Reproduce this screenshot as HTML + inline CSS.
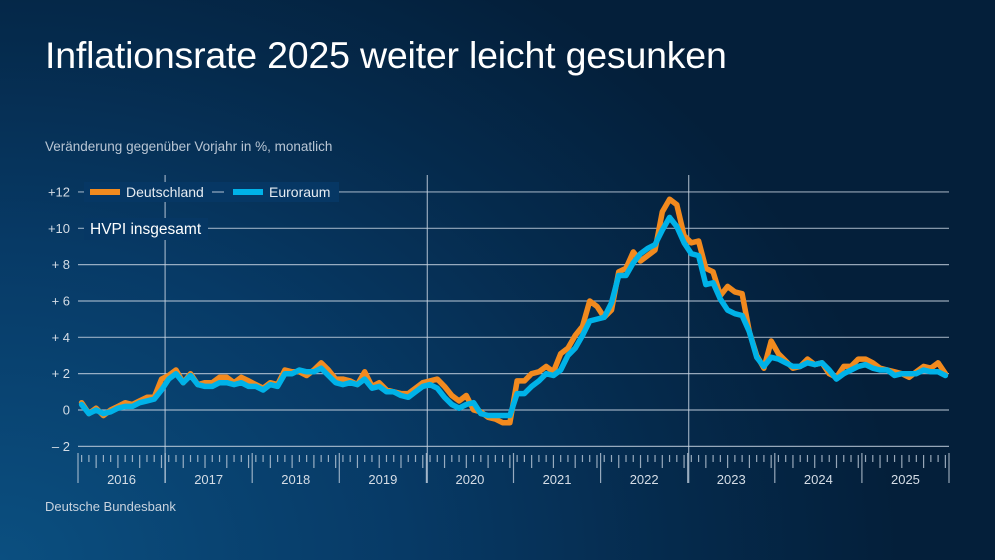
<!DOCTYPE html>
<html><head><meta charset="utf-8">
<style>
html,body{margin:0;padding:0}
body{width:995px;height:560px;overflow:hidden;background:radial-gradient(ellipse 900px 700px at 0% 100%,#0b4f80 0%,#073a66 45%,#052a4c 75%,#041f3a 100%);font-family:"Liberation Sans",sans-serif;position:relative}
h1{position:absolute;left:45px;top:34px;margin:0;font-weight:normal;color:#fff;font-size:37.5px;letter-spacing:-0.2px}
.sub{position:absolute;left:45px;top:139px;color:#b9c6d4;font-size:13.5px}
.src{position:absolute;left:45px;top:499px;color:#c9d3de;font-size:13px}
svg{position:absolute;left:0;top:0}
</style></head><body>
<h1>Inflationsrate 2025 weiter leicht gesunken</h1>
<div class="sub">Veränderung gegenüber Vorjahr in %, monatlich</div>
<div class="src">Deutsche Bundesbank</div>
<svg id="s" width="995" height="560" font-family="Liberation Sans, sans-serif"></svg>
<script>
var de=[0.4,-0.2,0.1,-0.3,0.0,0.2,0.4,0.3,0.5,0.7,0.7,1.7,
1.9,2.2,1.5,2.0,1.4,1.5,1.5,1.8,1.8,1.5,1.8,1.6,
1.4,1.2,1.5,1.4,2.2,2.1,2.1,1.9,2.2,2.6,2.2,1.7,
1.7,1.6,1.4,2.1,1.3,1.5,1.1,1.0,0.9,0.9,1.2,1.5,
1.6,1.7,1.3,0.8,0.5,0.8,0.0,-0.1,-0.4,-0.5,-0.7,-0.7,
1.6,1.6,2.0,2.1,2.4,2.1,3.1,3.4,4.1,4.6,6.0,5.7,
5.1,5.5,7.6,7.8,8.7,8.2,8.5,8.8,10.9,11.6,11.3,9.6,
9.2,9.3,7.8,7.6,6.3,6.8,6.5,6.4,4.3,3.0,2.3,3.8,
3.1,2.7,2.3,2.4,2.8,2.5,2.6,2.0,1.8,2.4,2.4,2.8,
2.8,2.6,2.3,2.2,2.1,2.0,1.8,2.1,2.4,2.3,2.6,2.0];
var ea=[0.3,-0.2,0.0,-0.2,-0.1,0.1,0.2,0.2,0.4,0.5,0.6,1.1,
1.7,2.0,1.5,1.9,1.4,1.3,1.3,1.5,1.5,1.4,1.5,1.3,
1.3,1.1,1.4,1.3,2.0,2.0,2.2,2.1,2.1,2.3,1.9,1.5,
1.4,1.5,1.4,1.7,1.2,1.3,1.0,1.0,0.8,0.7,1.0,1.3,
1.4,1.2,0.7,0.3,0.1,0.3,0.4,-0.2,-0.3,-0.3,-0.3,-0.3,
0.9,0.9,1.3,1.6,2.0,1.9,2.2,3.0,3.4,4.1,4.9,5.0,
5.1,5.9,7.4,7.4,8.1,8.6,8.9,9.1,9.9,10.6,10.1,9.2,
8.6,8.5,6.9,7.0,6.1,5.5,5.3,5.2,4.3,2.9,2.4,2.9,
2.8,2.6,2.4,2.4,2.6,2.5,2.6,2.2,1.7,2.0,2.2,2.4,
2.5,2.3,2.2,2.2,1.9,2.0,2.0,2.0,2.2,2.1,2.1,1.9];
var X0=78,YW=87.1,MW=YW/12;
function X(i){return X0+MW*(i+0.5);}
function Y(v){return 410-18.17*v;}
var h='',g='rgba(200,212,225,0.75)';
[-2,0,2,4,6,8,10,12].forEach(function(v){
 var y=Y(v);
 h+='<line x1="78" x2="949" y1="'+y+'" y2="'+y+'" stroke="'+g+'" stroke-width="1.2"/>';
 var t=v>0?'+ '+v:(v<0?'– '+(-v):'0');
 if(v>=10)t='+'+v;
 h+='<text x="70" y="'+(y+4.5)+'" fill="#d5dde6" font-size="13" text-anchor="end">'+t+'</text>';
});
[165.1,427.3,688.7].forEach(function(x){h+='<line x1="'+x+'" x2="'+x+'" y1="175" y2="483" stroke="'+g+'" stroke-width="1.2"/>';});
for(var yr=0;yr<=10;yr++){var x=X0+yr*YW;h+='<line x1="'+x+'" x2="'+x+'" y1="453" y2="483" stroke="'+g+'" stroke-width="1.2"/>';
 if(yr<10)h+='<text x="'+(x+YW/2)+'" y="484" fill="#d5dde6" font-size="13" text-anchor="middle">'+(2016+yr)+'</text>';}
for(var i=0;i<120;i++){var x=X(i);var l=(i%3==2)?468:462;h+='<line x1="'+x+'" x2="'+x+'" y1="455" y2="'+l+'" stroke="'+g+'" stroke-width="1.2"/>';}
function pl(d,c,w){var p=d.map(function(v,i){return X(i).toFixed(1)+','+Y(v).toFixed(1)}).join(' ');return '<polyline points="'+p+'" fill="none" stroke="'+c+'" stroke-width="'+w+'" stroke-linejoin="round" stroke-linecap="round"/>';}
h+=pl(de,'#f28a1e',5.5);
h+=pl(ea,'#00b2e8',5.5);
var bg='#063764';
h+='<rect x="84" y="182" width="255" height="20" fill="'+bg+'"/>';
h+='<rect x="90" y="189" width="30" height="6" fill="#f28a1e"/>';
h+='<text x="126" y="197" fill="#e6ecf2" font-size="14">Deutschland</text>';
h+='<line x1="212" x2="224" y1="192" y2="192" stroke="'+g+'" stroke-width="1.2"/>';
h+='<rect x="233" y="189" width="30" height="6" fill="#00b2e8"/>';
h+='<text x="269" y="197" fill="#e6ecf2" font-size="14">Euroraum</text>';
h+='<rect x="84" y="218" width="124" height="22" fill="'+bg+'"/>';
h+='<text x="90" y="234" fill="#fff" font-size="15.5">HVPI insgesamt</text>';
document.getElementById('s').innerHTML=h;
</script>
</body></html>
